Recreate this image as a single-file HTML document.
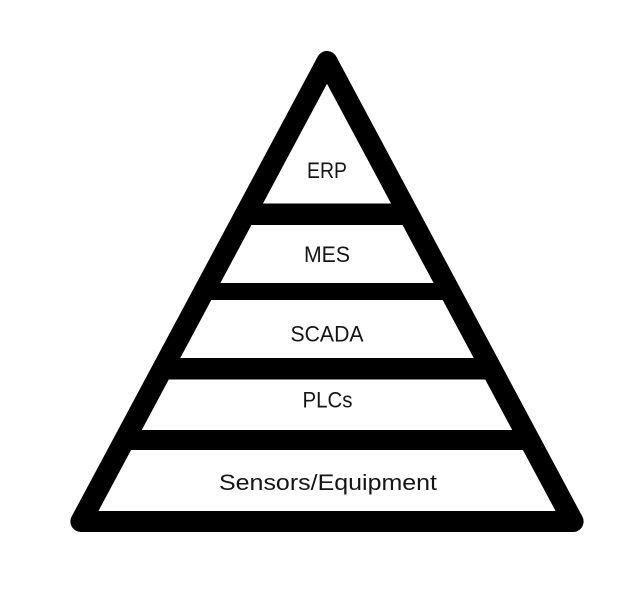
<!DOCTYPE html>
<html>
<head>
<meta charset="utf-8">
<style>
  html, body { margin: 0; padding: 0; background: #ffffff; }
  body { width: 642px; height: 608px; overflow: hidden; }
  svg { display: block; }
  text { font-family: "Liberation Sans", "DejaVu Sans", sans-serif; font-size: 22px; fill: #151515; }
</style>
</head>
<body>
<svg width="642" height="608" viewBox="0 0 642 608" xmlns="http://www.w3.org/2000/svg">
  <rect x="0" y="0" width="642" height="608" fill="#ffffff"/>
  <!-- outer pyramid -->
  <polygon points="327,61.5 80.9,521.5 573.1,521.5" fill="none" stroke="#000" stroke-width="21" stroke-linejoin="round"/>
  <!-- layer dividers -->
  <rect x="245" y="203.5" width="164" height="21.5" fill="#000"/>
  <rect x="204" y="283" width="246" height="17" fill="#000"/>
  <rect x="162.5" y="358" width="329" height="21.5" fill="#000"/>
  <rect x="124.5" y="430" width="405" height="20" fill="#000"/>
  <!-- labels -->
  <text x="327" y="178" text-anchor="middle" textLength="40" lengthAdjust="spacingAndGlyphs">ERP</text>
  <text x="327" y="262" text-anchor="middle" textLength="46" lengthAdjust="spacingAndGlyphs">MES</text>
  <text x="327" y="341.5" text-anchor="middle" textLength="73" lengthAdjust="spacingAndGlyphs">SCADA</text>
  <text x="327.5" y="407.5" text-anchor="middle" textLength="50" lengthAdjust="spacingAndGlyphs">PLCs</text>
  <text x="328" y="490" text-anchor="middle" textLength="218" lengthAdjust="spacingAndGlyphs">Sensors/Equipment</text>
</svg>
</body>
</html>
